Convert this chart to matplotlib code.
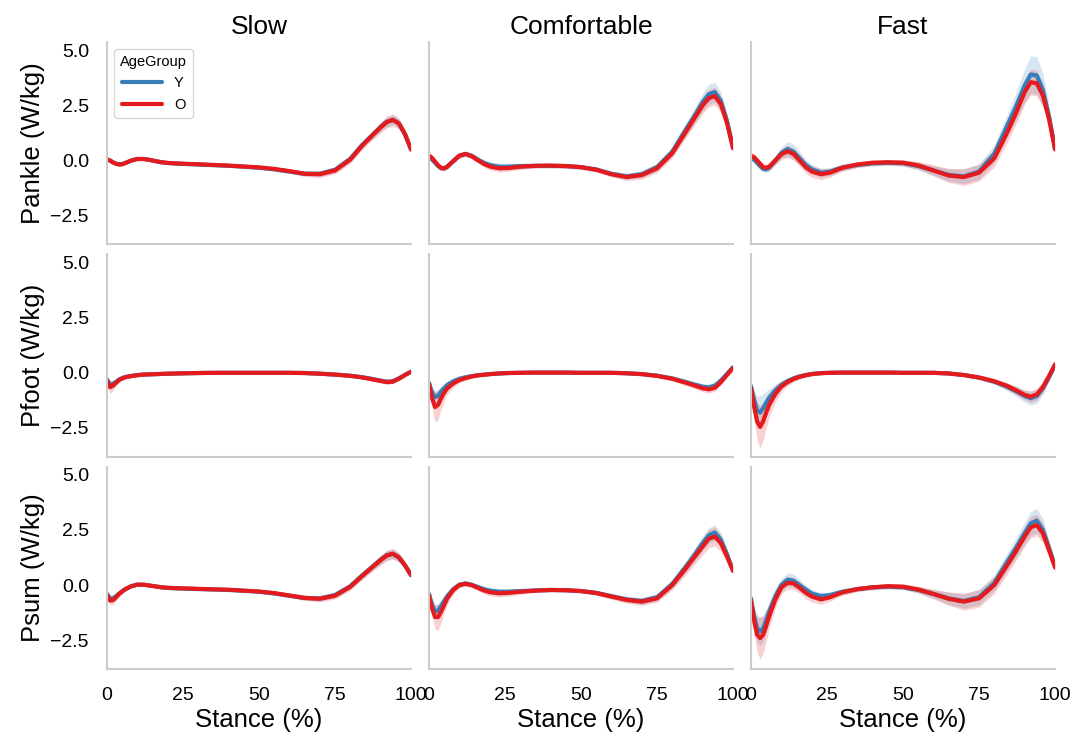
import numpy as np
import matplotlib
matplotlib.use("Agg")
import matplotlib.pyplot as plt

plt.rcParams['font.family'] = ['Liberation Sans', 'DejaVu Sans']

# stance grid (% of stance), shared by every curve
stance = [0, 1, 2, 3, 4, 5, 6, 8, 10, 12, 14, 16, 18, 20, 23, 26, 30, 35, 40, 45,
          50, 55, 60, 65, 70, 75, 80, 84, 87, 90, 92, 94, 96, 98, 100]

speeds = ["Slow", "Comfortable", "Fast"]
measures = ["Pankle", "Pfoot", "Psum"]
groups = ["Y", "O"]

# ---- Pankle ----
ankle_slow_Y = [0.05, 0.0, -0.08, -0.14, -0.17, -0.16, -0.11, 0.0, 0.07, 0.07, 0.03, -0.03, -0.08, -0.11, -0.14, -0.16, -0.18,
                -0.21, -0.24, -0.28, -0.33, -0.4, -0.5, -0.6, -0.6, -0.42, 0.08, 0.72, 1.12, 1.52, 1.75, 1.85, 1.68, 1.2, 0.5]
ankle_slow_O = [0.05, 0.0, -0.09, -0.15, -0.18, -0.17, -0.12, 0.0, 0.07, 0.07, 0.03, -0.03, -0.08, -0.11, -0.13, -0.15, -0.17,
                -0.2, -0.23, -0.27, -0.31, -0.38, -0.48, -0.6, -0.62, -0.45, 0.04, 0.68, 1.1, 1.5, 1.74, 1.84, 1.68, 1.2, 0.5]
ankle_slow_Y_sd = [0.08, 0.08, 0.07, 0.06, 0.06, 0.06, 0.06, 0.06, 0.06, 0.06, 0.05, 0.05, 0.05, 0.05, 0.05, 0.05, 0.05, 0.05,
                   0.05, 0.06, 0.06, 0.07, 0.08, 0.1, 0.12, 0.13, 0.14, 0.15, 0.17, 0.2, 0.22, 0.22, 0.2, 0.15, 0.1]
ankle_slow_O_sd = [0.1, 0.1, 0.08, 0.07, 0.06, 0.06, 0.06, 0.06, 0.06, 0.06, 0.05, 0.05, 0.05, 0.05, 0.05, 0.05, 0.05, 0.05,
                   0.05, 0.06, 0.06, 0.08, 0.1, 0.12, 0.15, 0.16, 0.17, 0.18, 0.2, 0.24, 0.27, 0.28, 0.25, 0.18, 0.12]

ankle_comf_Y = [0.15, 0.05, -0.1, -0.25, -0.35, -0.35, -0.28, -0.02, 0.22, 0.3, 0.22, 0.05, -0.1, -0.2, -0.28, -0.28, -0.25,
                -0.24, -0.24, -0.25, -0.3, -0.4, -0.6, -0.72, -0.62, -0.3, 0.4, 1.3, 1.95, 2.65, 3.0, 3.1, 2.7, 1.8, 0.6]
ankle_comf_O = [0.22, 0.12, -0.05, -0.22, -0.33, -0.35, -0.28, -0.02, 0.22, 0.3, 0.2, 0.02, -0.15, -0.27, -0.35, -0.34, -0.28,
                -0.24, -0.23, -0.25, -0.3, -0.42, -0.62, -0.75, -0.66, -0.35, 0.33, 1.2, 1.85, 2.5, 2.82, 2.92, 2.55, 1.7, 0.55]
ankle_comf_Y_sd = [0.12, 0.12, 0.12, 0.12, 0.12, 0.12, 0.12, 0.12, 0.12, 0.12, 0.12, 0.12, 0.13, 0.14, 0.15, 0.14, 0.12, 0.1,
                   0.1, 0.1, 0.1, 0.1, 0.12, 0.14, 0.16, 0.18, 0.22, 0.28, 0.34, 0.4, 0.45, 0.45, 0.4, 0.3, 0.15]
ankle_comf_O_sd = [0.15, 0.14, 0.13, 0.12, 0.12, 0.12, 0.12, 0.12, 0.12, 0.12, 0.12, 0.13, 0.14, 0.16, 0.17, 0.15, 0.12, 0.1,
                   0.1, 0.1, 0.1, 0.1, 0.12, 0.15, 0.18, 0.2, 0.22, 0.27, 0.32, 0.37, 0.4, 0.4, 0.36, 0.27, 0.15]

ankle_fast_Y = [0.1, 0.05, -0.1, -0.25, -0.38, -0.4, -0.32, 0.0, 0.35, 0.52, 0.4, 0.1, -0.2, -0.4, -0.55, -0.5, -0.32,
                -0.2, -0.13, -0.1, -0.12, -0.25, -0.45, -0.65, -0.72, -0.5, 0.3, 1.5, 2.4, 3.4, 3.9, 3.85, 3.2, 2.0, 0.55]
ankle_fast_O = [0.2, 0.15, 0.0, -0.15, -0.3, -0.33, -0.28, 0.0, 0.28, 0.42, 0.3, 0.0, -0.3, -0.5, -0.62, -0.55, -0.33,
                -0.18, -0.1, -0.08, -0.1, -0.22, -0.45, -0.68, -0.75, -0.55, 0.1, 1.2, 2.1, 3.1, 3.55, 3.5, 2.95, 1.9, 0.5]
ankle_fast_Y_sd = [0.15, 0.15, 0.15, 0.15, 0.15, 0.15, 0.17, 0.2, 0.25, 0.33, 0.35, 0.3, 0.25, 0.22, 0.2, 0.18, 0.15, 0.12,
                   0.12, 0.12, 0.14, 0.17, 0.22, 0.28, 0.33, 0.35, 0.4, 0.5, 0.62, 0.75, 0.85, 0.85, 0.75, 0.5, 0.2]
ankle_fast_O_sd = [0.18, 0.18, 0.17, 0.16, 0.16, 0.16, 0.17, 0.2, 0.23, 0.28, 0.28, 0.27, 0.27, 0.27, 0.25, 0.2, 0.16, 0.13,
                   0.12, 0.12, 0.14, 0.18, 0.25, 0.32, 0.38, 0.38, 0.4, 0.45, 0.5, 0.55, 0.58, 0.58, 0.52, 0.38, 0.18]

# ---- Pfoot ----
foot_slow_Y = [-0.3, -0.55, -0.5, -0.4, -0.3, -0.24, -0.19, -0.14, -0.1, -0.08, -0.07, -0.06, -0.05, -0.04, -0.03, -0.02, -0.01,
               0.0, 0.0, 0.0, 0.0, 0.0, 0.0, -0.01, -0.04, -0.08, -0.13, -0.2, -0.27, -0.35, -0.4, -0.38, -0.25, -0.1, 0.05]
foot_slow_O = [-0.35, -0.65, -0.58, -0.45, -0.33, -0.26, -0.2, -0.15, -0.11, -0.08, -0.07, -0.06, -0.05, -0.04, -0.03, -0.02, -0.01,
               0.0, 0.0, 0.0, 0.0, 0.0, 0.0, -0.01, -0.04, -0.08, -0.14, -0.21, -0.29, -0.37, -0.42, -0.4, -0.27, -0.1, 0.05]
foot_slow_Y_sd = [0.15, 0.2, 0.15, 0.1, 0.08, 0.07, 0.06, 0.05, 0.04, 0.04, 0.04, 0.04, 0.04, 0.04, 0.03, 0.03, 0.03, 0.03,
                  0.03, 0.03, 0.03, 0.03, 0.03, 0.03, 0.04, 0.04, 0.05, 0.06, 0.07, 0.08, 0.09, 0.09, 0.08, 0.06, 0.05]
foot_slow_O_sd = [0.2, 0.3, 0.2, 0.13, 0.1, 0.08, 0.07, 0.06, 0.05, 0.04, 0.04, 0.04, 0.04, 0.04, 0.03, 0.03, 0.03, 0.03,
                  0.03, 0.03, 0.03, 0.03, 0.03, 0.03, 0.04, 0.04, 0.05, 0.06, 0.07, 0.09, 0.1, 0.1, 0.09, 0.06, 0.05]

foot_comf_Y = [-0.45, -0.9, -1.1, -1.05, -0.85, -0.7, -0.55, -0.38, -0.27, -0.2, -0.15, -0.11, -0.08, -0.06, -0.03, -0.01, 0.0,
               0.01, 0.01, 0.01, 0.0, 0.0, 0.0, -0.02, -0.06, -0.13, -0.25, -0.4, -0.52, -0.63, -0.66, -0.58, -0.35, -0.05, 0.25]
foot_comf_O = [-0.5, -1.15, -1.55, -1.45, -1.15, -0.9, -0.7, -0.48, -0.33, -0.24, -0.17, -0.12, -0.09, -0.06, -0.03, -0.01, 0.0,
               0.01, 0.01, 0.01, 0.0, 0.0, 0.0, -0.02, -0.06, -0.14, -0.27, -0.43, -0.56, -0.7, -0.75, -0.68, -0.42, -0.1, 0.22]
foot_comf_Y_sd = [0.15, 0.25, 0.3, 0.3, 0.25, 0.2, 0.16, 0.12, 0.1, 0.08, 0.07, 0.06, 0.05, 0.05, 0.04, 0.04, 0.04, 0.04,
                  0.04, 0.04, 0.04, 0.04, 0.04, 0.04, 0.05, 0.06, 0.08, 0.1, 0.12, 0.14, 0.15, 0.14, 0.12, 0.1, 0.08]
foot_comf_O_sd = [0.2, 0.45, 0.7, 0.65, 0.5, 0.38, 0.28, 0.18, 0.13, 0.1, 0.08, 0.07, 0.06, 0.05, 0.04, 0.04, 0.04, 0.04,
                  0.04, 0.04, 0.04, 0.04, 0.04, 0.04, 0.05, 0.07, 0.1, 0.12, 0.14, 0.16, 0.17, 0.16, 0.14, 0.1, 0.08]

foot_fast_Y = [-0.6, -1.2, -1.7, -1.8, -1.6, -1.35, -1.12, -0.8, -0.55, -0.38, -0.25, -0.16, -0.1, -0.05, -0.01, 0.0, 0.01,
               0.01, 0.01, 0.01, 0.0, 0.0, 0.0, -0.03, -0.1, -0.22, -0.4, -0.62, -0.82, -1.05, -1.15, -1.05, -0.7, -0.2, 0.35]
foot_fast_O = [-0.7, -1.5, -2.2, -2.45, -2.2, -1.8, -1.45, -0.95, -0.62, -0.42, -0.28, -0.18, -0.11, -0.06, -0.02, 0.0, 0.01,
               0.01, 0.01, 0.01, 0.0, 0.0, 0.0, -0.03, -0.1, -0.21, -0.38, -0.58, -0.78, -1.0, -1.08, -0.98, -0.65, -0.15, 0.38]
foot_fast_Y_sd = [0.2, 0.4, 0.65, 0.75, 0.65, 0.5, 0.4, 0.28, 0.2, 0.15, 0.12, 0.1, 0.08, 0.06, 0.05, 0.04, 0.04, 0.04,
                  0.04, 0.04, 0.04, 0.04, 0.04, 0.05, 0.06, 0.08, 0.12, 0.17, 0.22, 0.28, 0.32, 0.33, 0.3, 0.2, 0.1]
foot_fast_O_sd = [0.25, 0.55, 0.85, 0.95, 0.85, 0.7, 0.55, 0.38, 0.25, 0.18, 0.14, 0.11, 0.09, 0.07, 0.05, 0.04, 0.04, 0.04,
                  0.04, 0.04, 0.04, 0.04, 0.04, 0.05, 0.06, 0.08, 0.1, 0.14, 0.18, 0.22, 0.25, 0.26, 0.24, 0.18, 0.1]

# ---- Psum ----
sum_slow_Y = [-0.4, -0.6, -0.6, -0.5, -0.38, -0.28, -0.18, -0.05, 0.02, 0.02, -0.02, -0.06, -0.1, -0.13, -0.15, -0.16, -0.18,
              -0.2, -0.22, -0.26, -0.3, -0.38, -0.48, -0.58, -0.6, -0.45, -0.05, 0.45, 0.8, 1.15, 1.35, 1.42, 1.25, 0.9, 0.45]
sum_slow_O = [-0.45, -0.7, -0.68, -0.55, -0.4, -0.29, -0.19, -0.05, 0.02, 0.02, -0.02, -0.06, -0.1, -0.12, -0.14, -0.15, -0.17,
              -0.19, -0.21, -0.25, -0.29, -0.36, -0.47, -0.58, -0.62, -0.48, -0.08, 0.42, 0.78, 1.13, 1.34, 1.42, 1.26, 0.9, 0.45]
sum_slow_Y_sd = [0.1, 0.15, 0.15, 0.12, 0.1, 0.08, 0.07, 0.06, 0.05, 0.05, 0.05, 0.05, 0.05, 0.05, 0.05, 0.05, 0.05, 0.05,
                 0.05, 0.05, 0.06, 0.07, 0.08, 0.1, 0.12, 0.13, 0.14, 0.15, 0.17, 0.2, 0.22, 0.22, 0.2, 0.15, 0.1]
sum_slow_O_sd = [0.12, 0.2, 0.2, 0.15, 0.12, 0.1, 0.08, 0.07, 0.06, 0.05, 0.05, 0.05, 0.05, 0.05, 0.05, 0.05, 0.05, 0.05,
                 0.05, 0.05, 0.06, 0.08, 0.1, 0.12, 0.14, 0.15, 0.16, 0.17, 0.19, 0.22, 0.24, 0.24, 0.22, 0.16, 0.1]

sum_comf_Y = [-0.4, -0.9, -1.2, -1.15, -0.95, -0.72, -0.5, -0.18, 0.02, 0.08, 0.02, -0.08, -0.18, -0.25, -0.3, -0.3, -0.27,
              -0.24, -0.22, -0.23, -0.27, -0.35, -0.5, -0.65, -0.72, -0.55, 0.05, 0.75, 1.3, 1.9, 2.25, 2.38, 2.05, 1.4, 0.65]
sum_comf_O = [-0.45, -1.05, -1.45, -1.45, -1.2, -0.9, -0.6, -0.22, 0.0, 0.06, 0.0, -0.12, -0.24, -0.32, -0.37, -0.35, -0.3,
              -0.25, -0.22, -0.23, -0.27, -0.36, -0.52, -0.67, -0.75, -0.6, 0.0, 0.68, 1.22, 1.75, 2.1, 2.2, 1.9, 1.3, 0.65]
sum_comf_Y_sd = [0.15, 0.25, 0.3, 0.3, 0.25, 0.2, 0.16, 0.12, 0.1, 0.1, 0.1, 0.1, 0.12, 0.13, 0.14, 0.13, 0.1, 0.08,
                 0.08, 0.08, 0.08, 0.1, 0.12, 0.14, 0.15, 0.16, 0.2, 0.25, 0.3, 0.33, 0.35, 0.35, 0.32, 0.25, 0.15]
sum_comf_O_sd = [0.2, 0.4, 0.55, 0.6, 0.5, 0.38, 0.28, 0.18, 0.13, 0.12, 0.12, 0.12, 0.14, 0.16, 0.17, 0.15, 0.12, 0.08,
                 0.08, 0.08, 0.08, 0.1, 0.12, 0.15, 0.17, 0.18, 0.22, 0.28, 0.33, 0.38, 0.42, 0.42, 0.38, 0.28, 0.16]

sum_fast_Y = [-0.6, -1.4, -1.95, -2.1, -1.95, -1.6, -1.2, -0.5, 0.0, 0.25, 0.2, 0.0, -0.2, -0.38, -0.5, -0.45, -0.3,
              -0.18, -0.1, -0.07, -0.1, -0.22, -0.4, -0.6, -0.72, -0.55, 0.1, 1.0, 1.65, 2.35, 2.8, 2.92, 2.5, 1.7, 0.85]
sum_fast_O = [-0.7, -1.6, -2.25, -2.4, -2.25, -1.85, -1.4, -0.65, -0.1, 0.1, 0.08, -0.12, -0.35, -0.52, -0.65, -0.55, -0.33,
              -0.18, -0.1, -0.05, -0.07, -0.2, -0.4, -0.62, -0.75, -0.6, 0.0, 0.85, 1.5, 2.2, 2.62, 2.72, 2.35, 1.6, 0.8]
sum_fast_Y_sd = [0.2, 0.4, 0.6, 0.65, 0.6, 0.5, 0.42, 0.33, 0.3, 0.3, 0.3, 0.25, 0.2, 0.18, 0.16, 0.14, 0.12, 0.1,
                 0.1, 0.1, 0.1, 0.14, 0.2, 0.28, 0.33, 0.35, 0.35, 0.4, 0.45, 0.5, 0.55, 0.55, 0.5, 0.35, 0.2]
sum_fast_O_sd = [0.25, 0.5, 0.8, 0.95, 0.85, 0.7, 0.55, 0.4, 0.3, 0.28, 0.27, 0.25, 0.25, 0.25, 0.22, 0.18, 0.14, 0.12,
                 0.11, 0.11, 0.12, 0.16, 0.22, 0.3, 0.38, 0.4, 0.38, 0.4, 0.42, 0.45, 0.48, 0.48, 0.44, 0.32, 0.2]

curves = {
    ("Pankle", "Slow"): (ankle_slow_Y, ankle_slow_Y_sd, ankle_slow_O, ankle_slow_O_sd),
    ("Pankle", "Comfortable"): (ankle_comf_Y, ankle_comf_Y_sd, ankle_comf_O, ankle_comf_O_sd),
    ("Pankle", "Fast"): (ankle_fast_Y, ankle_fast_Y_sd, ankle_fast_O, ankle_fast_O_sd),
    ("Pfoot", "Slow"): (foot_slow_Y, foot_slow_Y_sd, foot_slow_O, foot_slow_O_sd),
    ("Pfoot", "Comfortable"): (foot_comf_Y, foot_comf_Y_sd, foot_comf_O, foot_comf_O_sd),
    ("Pfoot", "Fast"): (foot_fast_Y, foot_fast_Y_sd, foot_fast_O, foot_fast_O_sd),
    ("Psum", "Slow"): (sum_slow_Y, sum_slow_Y_sd, sum_slow_O, sum_slow_O_sd),
    ("Psum", "Comfortable"): (sum_comf_Y, sum_comf_Y_sd, sum_comf_O, sum_comf_O_sd),
    ("Psum", "Fast"): (sum_fast_Y, sum_fast_Y_sd, sum_fast_O, sum_fast_O_sd),
}
colors = {"Y": "#377eb8", "O": "#e41a1c"}

fig, axes = plt.subplots(3, 3, figsize=(10.86, 7.37), dpi=100, sharex=True, sharey=True)
fig.subplots_adjust(left=0.0985, right=0.9715, top=0.943, bottom=0.0923, wspace=0.059, hspace=0.049)
x = np.array(stance)
for i, m in enumerate(measures):
    for j, sp in enumerate(speeds):
        ax = axes[i, j]
        yv, ysd, ov, osd = curves[(m, sp)]
        for g, mean, sd in (("Y", yv, ysd), ("O", ov, osd)):
            mean, sd = np.array(mean), np.array(sd)
            ax.fill_between(x, mean - sd, mean + sd, color=colors[g], alpha=0.2, lw=0)
            ax.plot(x, mean, color=colors[g], lw=3, label=g, solid_capstyle="round",
                    solid_joinstyle="round")
        for s in ("top", "right"):
            ax.spines[s].set_visible(False)
        for s in ("left", "bottom"):
            ax.spines[s].set_color("#cccccc")
            ax.spines[s].set_linewidth(1.5)
        ax.tick_params(axis="x", length=0, labelsize=14, pad=13)
        ax.tick_params(axis="y", length=0, labelsize=14, pad=13)
        if i == 0:
            ax.set_title(sp, fontsize=19, pad=6)
        if j == 0:
            ax.set_ylabel(f"{m} (W/kg)", fontsize=18.5)
        if i == 2:
            ax.set_xlabel("Stance (%)", fontsize=18.5, labelpad=3)

ax = axes[0, 0]
ax.set_xlim(0, 100)
ax.set_ylim(-3.8, 5.37)
ax.set_xticks([0, 25, 50, 75, 100])
ax.set_yticks([-2.5, 0.0, 2.5, 5.0])
leg = ax.legend(title="AgeGroup", loc="upper left", fontsize=10.5, title_fontsize=10.5,
                handlelength=2.8, frameon=True, edgecolor="#cccccc")

fig.savefig("out.png", dpi=100)
